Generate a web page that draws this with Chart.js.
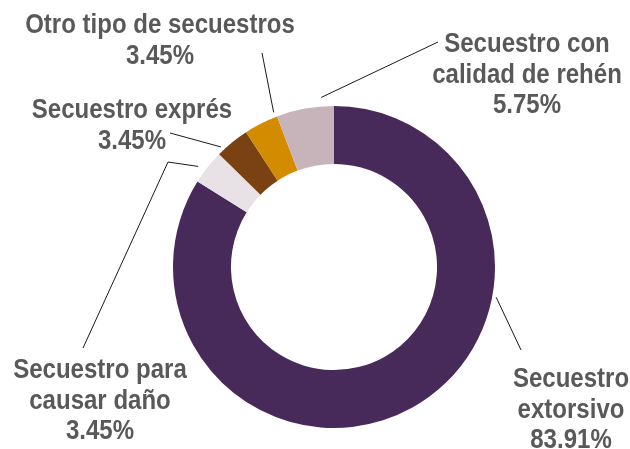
<!DOCTYPE html>
<html>
<head>
<meta charset="utf-8">
<script src="https://cdn.jsdelivr.net/npm/chart.js@4"></script>
<style>
  html, body { margin: 0; padding: 0; background: #fff; }
  #wrap { width: 630px; height: 449px; }
</style>
</head>
<body>
<div id="wrap"><canvas id="donaChart" width="630" height="449"></canvas></div>
<script>
// datos (porcentajes del total de secuestros)
var categorias = ['Secuestro extorsivo', 'Secuestro para causar daño', 'Secuestro exprés', 'Otro tipo de secuestros', 'Secuestro con calidad de rehén'];
var porcentajes = [83.91, 3.45, 3.45, 3.45, 5.75];
var colores = ['#472a5a', '#e8e1e5', '#7a4213', '#d38b00', '#c7b4bb'];

// texto de cada etiqueta, una fila por linea
var etiquetas = [
    ['Secuestro', 'extorsivo', '83.91%'],
    ['Secuestro para', 'causar daño', '3.45%'],
    ['Secuestro exprés', '3.45%'],
    ['Otro tipo de secuestros', '3.45%'],
    ['Secuestro con', 'calidad de rehén', '5.75%']
];

// posicion de etiquetas y lineas guia (x centro, primera linea base, puntos del lado del texto,
// fraccion dentro de la rebanada y separacion desde el borde exterior)
var guias = [
    { x: 571, y: 387, puntos: [[521, 350]], frac: 0.333, sep: 4 },
    { x: 100, y: 378, puntos: [[83, 348], [168, 162]], frac: 0.36, sep: 8 },
    { x: 132, y: 118, puntos: [[170, 133]], frac: 0.18, sep: 4 },
    { x: 160, y: 33, puntos: [[262, 53]], frac: 0.95, sep: 5 },
    { x: 527, y: 52, puntos: [[438, 42]], frac: 0.79, sep: 9 }
];

var etiquetasPlugin = {
    id: 'etiquetasPlugin',
    afterDraw: function (chart) {
        var c = chart.ctx;
        var arcos = chart.getDatasetMeta(0).data;
        c.save();
        // lineas guia
        c.strokeStyle = '#1a1a1a';
        c.lineWidth = 1;
        arcos.forEach(function (arc, i) {
            var g = guias[i];
            var p = arc.getProps(['x', 'y', 'startAngle', 'endAngle', 'outerRadius'], true);
            var ang = p.startAngle + g.frac * (p.endAngle - p.startAngle);
            var r = p.outerRadius + g.sep;
            c.beginPath();
            c.moveTo(g.puntos[0][0], g.puntos[0][1]);
            for (var k = 1; k < g.puntos.length; k++) {
                c.lineTo(g.puntos[k][0], g.puntos[k][1]);
            }
            c.lineTo(p.x + r * Math.cos(ang), p.y + r * Math.sin(ang));
            c.stroke();
        });
        // textos (fuente angosta: se comprime en horizontal)
        c.fillStyle = '#595959';
        c.font = 'bold 27px "Liberation Sans", sans-serif';
        c.textAlign = 'center';
        c.textBaseline = 'alphabetic';
        etiquetas.forEach(function (lineas, i) {
            var g = guias[i];
            lineas.forEach(function (txt, j) {
                c.save();
                c.translate(g.x, g.y + j * 30.5);
                c.scale(0.89, 1);
                c.fillText(txt, 0, 0);
                c.restore();
            });
        });
        c.restore();
    }
};

var ctx = document.getElementById('donaChart').getContext('2d');
var donaChart = new Chart(ctx, {
    type: 'doughnut',
    data: {
        labels: categorias,
        datasets: [{
            data: porcentajes,
            backgroundColor: colores,
            borderWidth: 0
        }]
    },
    options: {
        responsive: false,
        animation: false,
        devicePixelRatio: 1,
        cutout: '64%',
        layout: {
            padding: { top: 106, bottom: 21, left: 173, right: 135 }
        },
        plugins: {
            legend: { display: false },
            tooltip: { enabled: false }
        }
    },
    plugins: [etiquetasPlugin]
});
</script>
</body>
</html>
